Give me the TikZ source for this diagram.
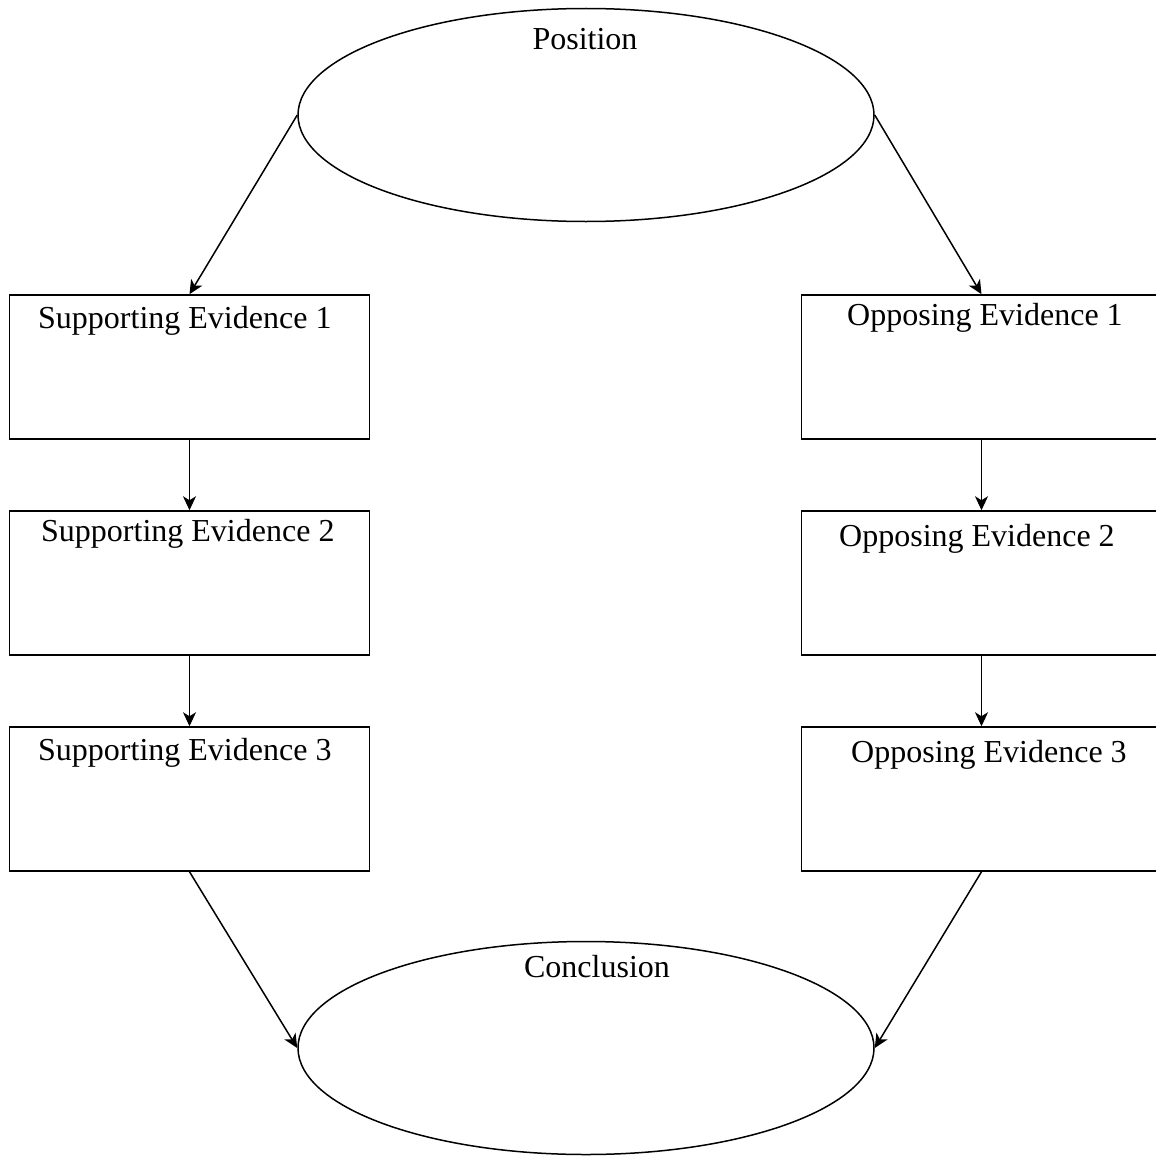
\documentclass[tikz,border=0pt]{standalone}
\usepackage{fontspec}
\setmainfont{Liberation Serif}
\usetikzlibrary{shapes.geometric,arrows.meta}
\begin{document}
\begin{tikzpicture}[x=1pt,y=-1pt,
  oval/.style={draw, line width=1.5pt, ellipse, minimum width=576pt, minimum height=213pt, inner sep=0pt},
  ebox/.style={draw, line width=1.5pt, rectangle, minimum width=360pt, minimum height=144pt, inner sep=0pt},
  lbl/.style={inner sep=0pt, font=\fontsize{32}{36}\selectfont},
  conn/.style={line width=1.5pt, -{Stealth[length=14pt,width=13pt,inset=4pt]}}]
\useasboundingbox (0,0) rectangle (1156,1156);
\clip (0,0) rectangle (1156,1156);
\node[oval] (pos) at (586,115) {};
\node[oval] (conc) at (586,1048) {};
\node[ebox] (s1) at (189.5,367) {};
\node[ebox] (s2) at (189.5,583) {};
\node[ebox] (s3) at (189.5,799) {};
\node[ebox] (o1) at (981.5,367) {};
\node[ebox] (o2) at (981.5,583) {};
\node[ebox] (o3) at (981.5,799) {};
\node[lbl, anchor=base] (tpos) at (585,50) {Position};
\node[lbl, anchor=base west] (ts1) at (38,328) {Supporting Evidence 1};
\node[lbl, anchor=base west] (ts2) at (41,541) {Supporting Evidence 2};
\node[lbl, anchor=base west] (ts3) at (38,760) {Supporting Evidence 3};
\node[lbl, anchor=base west] (to1) at (847,325) {Opposing Evidence 1};
\node[lbl, anchor=base west] (to2) at (839,546) {Opposing Evidence 2};
\node[lbl, anchor=base west] (to3) at (851,762) {Opposing Evidence 3};
\node[lbl, anchor=base] (tconc) at (597,977) {Conclusion};
\draw[conn] (pos.west) -- (s1.north);
\draw[conn] (pos.east) -- (o1.north);
\draw[conn] (s1.south) -- (s2.north);
\draw[conn] (s2.south) -- (s3.north);
\draw[conn] (o1.south) -- (o2.north);
\draw[conn] (o2.south) -- (o3.north);
\draw[conn] (s3.south) -- (conc.west);
\draw[conn] (o3.south) -- (conc.east);
\end{tikzpicture}
\end{document}
